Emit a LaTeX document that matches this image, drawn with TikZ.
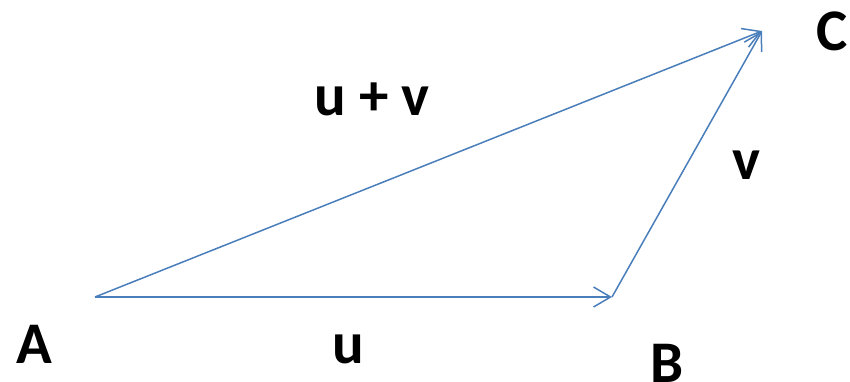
\documentclass[tikz,border=0pt]{standalone}
\usepackage{fontspec}
\setmainfont{Carlito}
\usepackage{tikz}
\usepackage{xcolor}
\usetikzlibrary{arrows.meta}
\definecolor{vecblue}{RGB}{74,126,187}
\tikzset{
  vector/.style={draw=vecblue, line width=1.5pt,
    -{Straight Barb[length=17pt, width=20pt]}},
  vlabel/.style={inner sep=0pt, font=\fontsize{59}{60}\selectfont\bfseries}
}

\begin{document}
\begin{tikzpicture}[x=1pt, y=-1pt]
  \useasboundingbox (0,0) rectangle (850,382);

  % Puntos del triangulo
  \coordinate (A) at (95,297);
  \coordinate (B) at (612,297);
  \coordinate (C) at (762,31);

  % Vectores
  \draw[vector] (A) -- (B);
  \draw[vector] (B) -- (C);
  \draw[vector] (A) -- (C);

  % Etiquetas
  \node[vlabel] (labA) at (34,344) {A};
  \node[vlabel] (labB) at (667,363) {B};
  \node[vlabel] (labC) at (832,31) {C};
  \node[vlabel] (labu) at (348,349) {u};
  \node[vlabel] (labv) at (746,165) {v};
  \node[vlabel] (labuv) at (372,99) {u + v};
\end{tikzpicture}
\end{document}
